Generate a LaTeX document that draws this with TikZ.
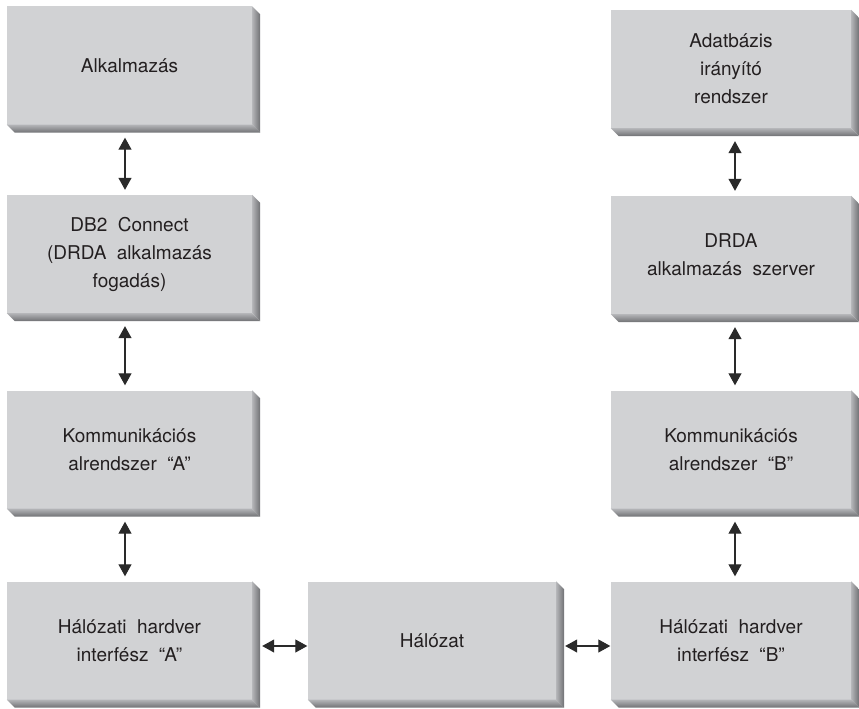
\documentclass[tikz,border=0pt]{standalone}
\usepackage{fontspec}
\setmainfont{TeX Gyre Heros}
\usetikzlibrary{arrows.meta}
\definecolor{facegray}{HTML}{D1D2D4}
\definecolor{bevlight}{HTML}{B4B5B8}
\definecolor{bevdark}{HTML}{6F7073}
\definecolor{txt}{HTML}{231F20}
\definecolor{arrowc}{HTML}{2A2A2A}
\newcommand{\ws}{\hspace{0.55em}}
\tikzset{
  facebox/.style={fill=facegray, minimum height=118pt, inner sep=0pt, align=center,
    text=txt, font=\fontsize{19}{28}\selectfont},
  biarrow/.style={draw=arrowc, line width=1.1pt, {Triangle[length=12pt,width=13pt]}-{Triangle[length=12pt,width=13pt]}}
}
\newcommand{\bevel}[1]{%
  \shade[left color=bevlight, right color=bevdark]
    (#1.north east) -- ++(8,8) -- ([shift={(8pt,-8pt)}]#1.south east) -- (#1.south east) -- cycle;
  \shade[top color=bevlight, bottom color=bevdark]
    (#1.south west) -- (#1.south east) -- ([shift={(8pt,-8pt)}]#1.south east) -- ([shift={(8pt,-8pt)}]#1.south west) -- cycle;
}
\begin{document}
\begin{tikzpicture}[x=1pt,y=-1pt]
\useasboundingbox (0,0) rectangle (859,709);
% left column
\node[facebox, minimum width=245pt] (l1) at (129.5,65.5) {Alkalmazás};
\node[facebox, minimum width=245pt] (l2) at (129.5,254) {DB2\ws Connect\\(DRDA\ws alkalmazás\\fogadás)};
\node[facebox, minimum width=245pt] (l3) at (129.5,449.5) {Kommunikációs\\alrendszer\ws “A”};
\node[facebox, minimum width=245pt] (l4) at (129.5,640.5) {Hálózati\ws hardver\\interfész\ws “A”};
% middle
\node[facebox, minimum width=248pt] (net) at (432,640.5) {Hálózat};
% right column
\node[facebox, minimum width=240pt] (r1) at (731,69) {Adatbázis\\irányító\\rendszer};
\node[facebox, minimum width=240pt] (r2) at (731,255) {DRDA\\alkalmazás\ws szerver};
\node[facebox, minimum width=240pt] (r3) at (731,449.5) {Kommunikációs\\alrendszer\ws “B”};
\node[facebox, minimum width=240pt] (r4) at (731,640.5) {Hálózati\ws hardver\\interfész\ws “B”};
\foreach \n in {l1,l2,l3,l4,net,r1,r2,r3,r4}{\bevel{\n}}
% vertical arrows
\draw[biarrow, shorten <=13pt, shorten >=5pt] ([xshift=-4.5pt]l1.south) -- ([xshift=-4.5pt]l2.north);
\draw[biarrow, shorten <=13pt, shorten >=5pt] ([xshift=-4.5pt]l2.south) -- ([xshift=-4.5pt]l3.north);
\draw[biarrow, shorten <=13pt, shorten >=5pt] ([xshift=-4.5pt]l3.south) -- ([xshift=-4.5pt]l4.north);
\draw[biarrow, shorten <=13pt, shorten >=5pt] ([xshift=4pt]r1.south) -- ([xshift=4pt]r2.north);
\draw[biarrow, shorten <=13pt, shorten >=5pt] ([xshift=4pt]r2.south) -- ([xshift=4pt]r3.north);
\draw[biarrow, shorten <=13pt, shorten >=5pt] ([xshift=4pt]r3.south) -- ([xshift=4pt]r4.north);
% horizontal arrows
\draw[biarrow, shorten <=10pt, shorten >=0.5pt] ([yshift=-5.5pt]l4.east) -- ([yshift=-5.5pt]net.west);
\draw[biarrow, shorten <=9pt, shorten >=0.5pt] ([yshift=-5.5pt]net.east) -- ([yshift=-5.5pt]r4.west);
\end{tikzpicture}
\end{document}
